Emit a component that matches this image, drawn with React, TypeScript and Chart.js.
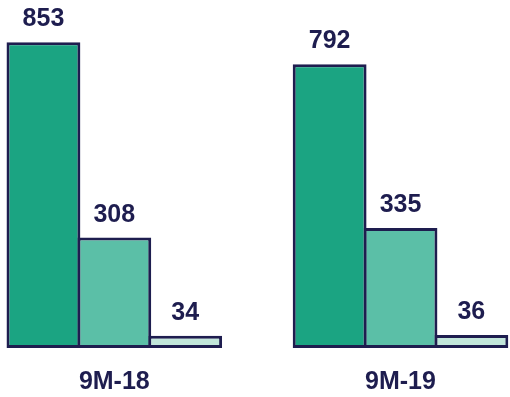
import React, { useEffect, useRef } from "react";
import { Chart, registerables } from "chart.js";

Chart.register(...registerables);

const categories = ["9M-18", "9M-19"];
const seriesA = [853, 792];
const seriesB = [308, 335];
const seriesC = [34, 36];

const fills = ["#1ba482", "#5bbfa7", "#c1e6da"];
const navy = "#1e1d4f";
const FONT = "Arial, 'Liberation Sans', sans-serif";

const valueLabels = {
  id: "valueLabels",
  afterDatasetsDraw(chart: any) {
    const ctx = chart.ctx;
    ctx.save();
    ctx.font = `bold 25px ${FONT}`;
    ctx.fillStyle = navy;
    ctx.textAlign = "center";
    ctx.textBaseline = "alphabetic";
    chart.data.datasets.forEach((ds: any, i: number) => {
      const meta = chart.getDatasetMeta(i);
      meta.data.forEach((el: any, j: number) => {
        const v = ds.data[j].y;
        ctx.fillText(String(v), el.x, el.y - 16);
      });
    });
    ctx.restore();
  },
};

export default function App() {
  const ref = useRef<HTMLCanvasElement | null>(null);
  useEffect(() => {
    if (!ref.current) return;
    const mk = (arr: number[]) => arr.map((y, i) => ({ x: i, y }));
    const chart = new Chart(ref.current, {
      type: "bar",
      data: {
        datasets: [seriesA, seriesB, seriesC].map((arr, k) => ({
          data: mk(arr),
          backgroundColor: fills[k],
          borderColor: navy,
          borderWidth: 3,
          borderSkipped: false,
          categoryPercentage: 0.7428,
          barPercentage: 1.0423,
        })),
      },
      options: {
        responsive: false,
        animation: false,
        layout: { padding: 0 },
        plugins: { legend: { display: false }, tooltip: { enabled: false } },
        scales: {
          x: {
            type: "linear",
            min: -0.3994,
            max: 1.3826,
            offset: false,
            grid: { display: false },
            border: { display: false },
            afterBuildTicks: (axis: any) => {
              axis.ticks = categories.map((_, i) => ({ value: i }));
            },
            afterFit: (axis: any) => {
              axis.height = 49;
            },
            ticks: {
              autoSkip: false,
              maxRotation: 0,
              padding: 11,
              color: navy,
              font: { family: FONT, size: 25, weight: "bold" },
              callback: (v: any) => categories[Math.round(Number(v))] ?? "",
            },
          },
          y: {
            display: false,
            min: 0,
            max: 971,
          },
        },
      },
      plugins: [valueLabels],
    });
    return () => chart.destroy();
  }, []);
  return (
    <div style={{ position: "fixed", left: 0, top: 0, width: 510, height: 397, background: "#fff" }}>
      <canvas ref={ref} width={510} height={397} />
    </div>
  );
}
